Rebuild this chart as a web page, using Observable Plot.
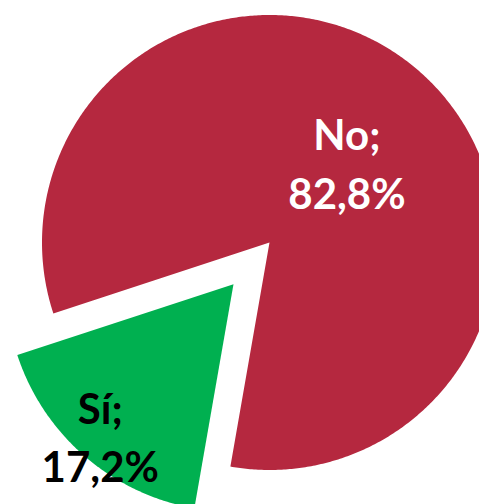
<!DOCTYPE html>
<html><head><meta charset="utf-8">
<script src="https://cdn.jsdelivr.net/npm/d3@7"></script>
<script src="https://cdn.jsdelivr.net/npm/@observablehq/plot@0.6"></script>
<style>html,body{margin:0;padding:0;background:#fff;overflow:hidden}</style>
</head><body><div id="chart"></div>
<script>
// Data
const categories = ["Sí", "No"];
const values = [17.2, 82.8];
const labels = ["Sí;\n17,2%", "No;\n82,8%"];

// Styles / layout (not data)
const colors = ["#00B050", "#B5283F"];
const startDeg = 189.9;          // angle of first slice (clockwise from 12 o'clock)
const explode = [0.242, 0];      // fraction of radius
const labelRadius = [0.895, 0.48];

const rows = categories.map((c, i) => ({category: c, value: values[i], label: labels[i]}));
const s0 = startDeg * Math.PI / 180;
const pie = d3.pie().sort(null).value(d => d.value).startAngle(s0).endAngle(s0 + 2 * Math.PI);
const arcs = pie(rows);

const outline = [];
const labelPts = [];
arcs.forEach((a, i) => {
  const mid = (a.startAngle + a.endAngle) / 2;
  const ox = explode[i] * Math.sin(mid), oy = explode[i] * Math.cos(mid);
  const cat = a.data.category;
  outline.push({category: cat, x: ox, y: oy});
  const n = Math.ceil((a.endAngle - a.startAngle) / (Math.PI / 360));
  for (let k = 0; k <= n; k++) {
    const t = a.startAngle + (a.endAngle - a.startAngle) * k / n;
    outline.push({category: cat, x: ox + Math.sin(t), y: oy + Math.cos(t)});
  }
  outline.push({category: cat, x: ox, y: oy});
  labelPts.push({category: cat, label: a.data.label,
    x: ox + labelRadius[i] * Math.sin(mid), y: oy + labelRadius[i] * Math.cos(mid)});
});

const R = 227.5;
const chart = Plot.plot({
  width: 479, height: 504, margin: 0,
  x: {domain: [-269 / R, 210 / R], axis: null},
  y: {domain: [-262 / R, 242 / R], axis: null},
  color: {domain: categories, range: colors},
  style: {fontFamily: "Lato, 'Open Sans', sans-serif", background: "#fff"},
  marks: [
    Plot.line(outline, {x: "x", y: "y", z: "category", fill: "category", stroke: "none", curve: "linear", clip: true}),
    Plot.text(labelPts.filter(d => d.category === "No"), {x: "x", y: "y", text: "label", fill: "white",
      fontSize: 42, fontWeight: "bold", lineHeight: 1.4, dx: 6, dy: 1}),
    Plot.text(labelPts.filter(d => d.category === "Sí"), {x: "x", y: "y", text: "label", fill: "black",
      fontSize: 42, fontWeight: "bold", lineHeight: 1.4, dy: -4})
  ]
});
document.getElementById("chart").appendChild(chart);
</script>
</body></html>
